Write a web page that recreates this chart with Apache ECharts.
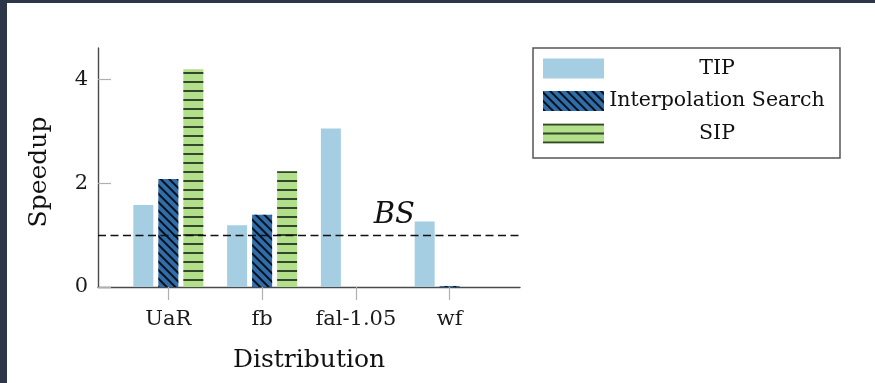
<!DOCTYPE html>
<html>
<head>
<meta charset="utf-8">
<script src="https://cdn.jsdelivr.net/npm/echarts@6/dist/echarts.min.js"></script>
<style>
  html, body { margin: 0; padding: 0; background: #2e3649; }
  #sheet { position: absolute; left: 7px; top: 3px; width: 868px; height: 380px; background: #ffffff; }
  #chart { position: absolute; left: 0; top: 0; width: 875px; height: 383px; }
</style>
</head>
<body>
<div id="sheet"></div>
<div id="chart"></div>
<script>
// Speedup over binary search per key distribution
const categories = ['UaR', 'fb', 'fal-1.05', 'wf'];
const tipValues = [1.58, 1.19, 3.05, 1.26];
const interpolationValues = [2.08, 1.39, null, 0.02];
const sipValues = [4.19, 2.23, null, null];
const baselineValue = 1;
const baselineLabel = 'BS';
const yTickValues = [0, 2, 4];

const serif = 'DejaVu Serif';

function pairs(values) {
  return values.map(function (v, i) { return [i, v]; });
}

const chart = echarts.init(document.getElementById('chart'), null, { renderer: 'canvas' });

chart.setOption({
  animation: false,
  backgroundColor: 'transparent',
  textStyle: { fontFamily: serif },
  grid: { left: 98, top: 48, right: 355, bottom: 96, containLabel: false },
  legend: {
    orient: 'vertical',
    left: 533,
    top: 48,
    icon: 'rect',
    itemWidth: 61,
    itemHeight: 20,
    itemGap: 11.5,
    padding: [10, 15, 14, 10],
    borderColor: '#555555',
    borderWidth: 1.5,
    backgroundColor: '#ffffff',
    formatter: function (name) { return '{c|' + name + '}'; },
    textStyle: {
      fontFamily: serif,
      fontSize: 20.5,
      color: '#111111',
      rich: {
        c: { width: 216, align: 'center', fontFamily: serif, fontSize: 20.5, lineHeight: 20, color: '#111111' }
      }
    },
    data: ['TIP', 'Interpolation Search', 'SIP']
  },
  xAxis: {
    type: 'value',
    min: -0.75,
    max: 3.75,
    name: 'Distribution',
    nameLocation: 'middle',
    nameGap: 61,
    nameTextStyle: { fontFamily: serif, fontSize: 25, color: '#111111' },
    axisLine: { show: true, onZero: false, lineStyle: { color: '#4a4a4a', width: 1.4 } },
    axisTick: {
      show: true,
      customValues: [0, 1, 2, 3],
      length: 13,
      lineStyle: { color: '#b0b0b0', width: 1.2 }
    },
    axisLabel: {
      customValues: [0, 1, 2, 3],
      margin: 22,
      fontFamily: serif,
      fontSize: 21,
      color: '#1a1a1a',
      formatter: function (v) { return categories[Math.round(v)]; }
    },
    splitLine: { show: false }
  },
  yAxis: {
    type: 'value',
    min: 0,
    max: 4.6,
    name: 'Speedup',
    nameLocation: 'middle',
    nameGap: 46,
    nameTextStyle: { fontFamily: serif, fontSize: 25, color: '#111111', padding: [0, 9, 0, 0] },
    axisLine: { show: true, onZero: false, lineStyle: { color: '#4a4a4a', width: 1.4 } },
    axisTick: {
      show: true,
      inside: true,
      customValues: yTickValues,
      length: 13,
      lineStyle: { color: '#b0b0b0', width: 1.2 }
    },
    axisLabel: {
      customValues: yTickValues,
      margin: 10,
      fontFamily: serif,
      fontSize: 21,
      color: '#1a1a1a'
    },
    splitLine: { show: false }
  },
  series: [
    {
      name: 'TIP',
      type: 'bar',
      barWidth: 20,
      barGap: '25%',
      itemStyle: { color: '#a6cee3' },
      data: pairs(tipValues),
      markLine: {
        silent: true,
        symbol: ['none', 'none'],
        label: { show: false },
        lineStyle: { color: '#111111', width: 1.3, type: [8, 4.5] },
        data: [{ yAxis: baselineValue }]
      }
    },
    {
      name: 'Interpolation Search',
      type: 'bar',
      barWidth: 20,
      barGap: '25%',
      itemStyle: {
        color: '#2f6eab',
        decal: {
          symbol: 'rect',
          symbolSize: 1,
          dashArrayX: [1, 0],
          dashArrayY: [1.6, 3.8],
          rotation: Math.PI / 4,
          color: 'rgba(0,0,0,0.85)'
        }
      },
      data: pairs(interpolationValues),
      markPoint: {
        silent: true,
        symbol: 'circle',
        symbolSize: 0,
        label: {
          show: true,
          position: 'inside',
          formatter: baselineLabel,
          fontFamily: serif,
          fontStyle: 'italic',
          fontSize: 29,
          color: '#111111'
        },
        data: [{ coord: [2.41, 1.37] }]
      }
    },
    {
      name: 'SIP',
      type: 'bar',
      barWidth: 20,
      barGap: '25%',
      itemStyle: {
        color: '#b2df8a',
        decal: {
          symbol: 'rect',
          symbolSize: 1,
          dashArrayX: [1, 0],
          dashArrayY: [1.8, 6.7],
          rotation: 0,
          color: 'rgba(20,30,20,0.8)'
        }
      },
      data: pairs(sipValues)
    }
  ]
});
</script>
</body>
</html>
